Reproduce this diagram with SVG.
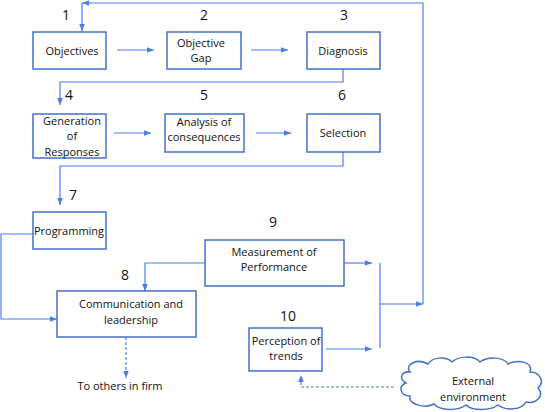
<svg xmlns="http://www.w3.org/2000/svg" width="545" height="412" viewBox="0 0 545 412">
<style>
.box{fill:#fff;stroke:#4472c4;stroke-width:1.5}
.t{font-family:"Open Sans","Liberation Sans",sans-serif;font-size:11px;fill:#111;text-anchor:middle}
.n{font-family:"Open Sans","Liberation Sans",sans-serif;font-size:14px;fill:#111;text-anchor:middle}
.c{fill:none;stroke:#4a7fe8;stroke-width:1.2}
.d{fill:none;stroke:#4a7fe8;stroke-width:1.2;stroke-dasharray:3,2}
</style>
<defs>
<marker id="a" viewBox="0 0 10 10" refX="10" refY="5" markerWidth="7" markerHeight="7" markerUnits="userSpaceOnUse" orient="auto">
<path d="M0,1 L10,5 L0,9 Z" fill="#4a7fe8"/>
</marker>
</defs>
<rect width="545" height="412" fill="#fff"/>
<g id="connectors">
<path class="c" d="M117,50 H154" marker-end="url(#a)"/>
<path class="c" d="M251,50 H288" marker-end="url(#a)"/>
<path class="c" d="M343,69 V82 H60 V105" marker-end="url(#a)"/>
<path class="c" d="M114,133 H151" marker-end="url(#a)"/>
<path class="c" d="M256,133 H291" marker-end="url(#a)"/>
<path class="c" d="M343,152 V166 H60 V205" marker-end="url(#a)"/>
<path class="c" d="M33,234 H1 V319 H57" marker-end="url(#a)"/>
<path class="c" d="M205,263 H145 V291" marker-end="url(#a)"/>
<path class="c" d="M344,263 H372" marker-end="url(#a)"/>
<path class="c" d="M326,349 H372" marker-end="url(#a)"/>
<path class="c" d="M380,263 V348"/>
<path class="c" d="M380,304 H423" marker-end="url(#a)"/>
<path class="c" d="M423,304 V3 H82" marker-end="url(#a)"/>
<path class="c" d="M82,3 V31" marker-end="url(#a)"/>
<path class="d" d="M126,337 V378" marker-end="url(#a)"/>
<path class="d" d="M394,387 H301 V375" marker-end="url(#a)"/>
</g>
<g id="n1"><text class="n" x="66" y="20">1</text><rect class="box" x="33" y="32" width="73" height="37"/><text class="t" x="72" y="55">Objectives</text></g>
<g id="n2"><text class="n" x="204" y="20">2</text><rect class="box" x="167" y="32" width="74" height="37"/><text class="t" x="201" y="47">Objective</text><text class="t" x="201" y="62">Gap</text></g>
<g id="n3"><text class="n" x="344" y="20">3</text><rect class="box" x="307" y="32" width="73" height="37"/><text class="t" x="343" y="55">Diagnosis</text></g>
<g id="n4"><text class="n" x="69" y="100">4</text><rect class="box" x="33" y="114" width="73" height="44"/><text class="t" x="72" y="125">Generation</text><text class="t" x="72" y="140">of</text><text class="t" x="72" y="156">Responses</text></g>
<g id="n5"><text class="n" x="204" y="100">5</text><rect class="box" x="165" y="114" width="79" height="38"/><text class="t" x="204" y="126">Analysis of</text><text class="t" x="204" y="141">consequences</text></g>
<g id="n6"><text class="n" x="342" y="100">6</text><rect class="box" x="307" y="114" width="73" height="38"/><text class="t" x="343" y="137">Selection</text></g>
<g id="n7"><text class="n" x="73" y="200">7</text><rect class="box" x="33" y="212" width="73" height="37"/><text class="t" x="69" y="235">Programming</text></g>
<g id="n9"><text class="n" x="273" y="227">9</text><rect class="box" x="205" y="240" width="139" height="46"/><text class="t" x="274" y="256">Measurement of</text><text class="t" x="274" y="271">Performance</text></g>
<g id="n8"><text class="n" x="125" y="280">8</text><rect class="box" x="57" y="291" width="139" height="46"/><text class="t" x="131" y="308">Communication and</text><text class="t" x="131" y="324">leadership</text></g>
<g id="n10"><text class="n" x="288" y="321">10</text><rect class="box" x="249" y="328" width="73" height="43"/><text class="t" x="286" y="345">Perception of</text><text class="t" x="286" y="360">trends</text></g>
<g id="others"><text class="t" x="120" y="390">To others in firm</text></g>
<g id="env">
<path class="box" stroke-width="1.3" d="M410,372 C404,364 418,358 428,364 C432,357 446,356 452,362 C458,356 474,355 480,362 C488,356 504,357 508,364 C518,359 534,362 530,372 C540,372 545,382 538,388 C545,396 536,404 526,402 C522,410 506,411 498,405 C490,411 472,411 466,405 C458,411 440,411 434,404 C424,409 408,404 410,396 C400,396 398,386 406,383 C398,378 402,371 410,372 Z"/>
<text class="t" x="473" y="385" font-size="12">External</text><text class="t" x="473" y="401" font-size="12">environment</text>
</g>
</svg>
